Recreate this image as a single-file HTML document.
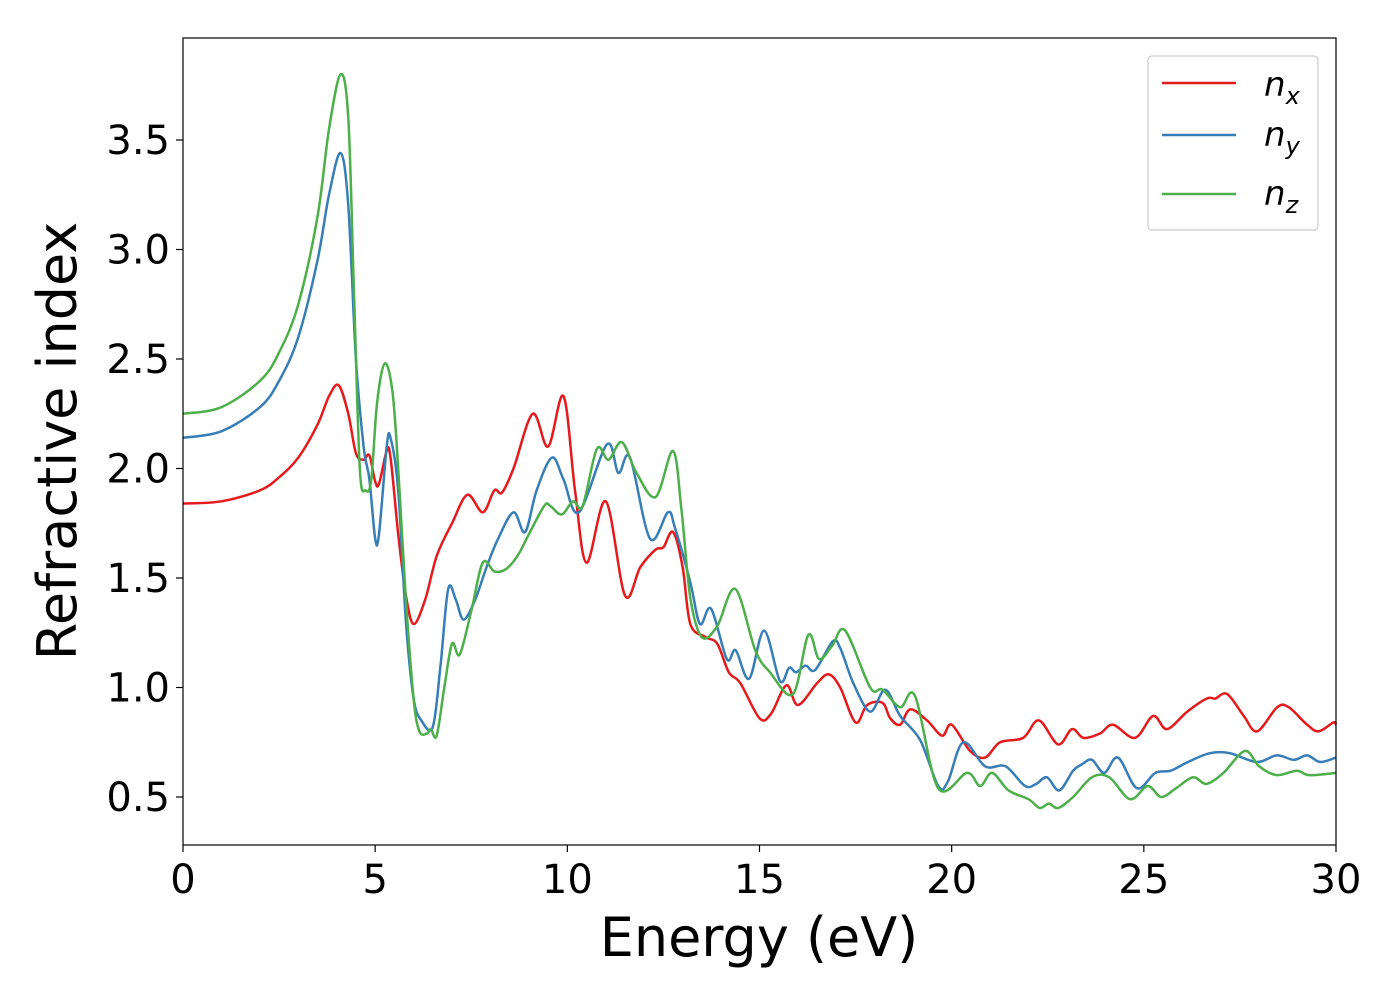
<!DOCTYPE html>
<html><head><meta charset="utf-8"><style>
html,body{margin:0;padding:0;background:#fff;}
svg{display:block;font-family:"DejaVu Sans","Liberation Sans",sans-serif;}
</style></head><body>
<svg id="chart" width="1400" height="1000" viewBox="0 0 1400 1000" xmlns="http://www.w3.org/2000/svg">
<rect width="1400" height="1000" fill="#fff"/>
<g id="series"></g>
<rect x="183" y="38" width="1153" height="807" fill="none" stroke="#000" stroke-width="1.2"/>
<g id="xticks"></g>
<g id="yticks"></g>
<text x="759" y="956" font-size="54" text-anchor="middle">Energy (eV)</text>
<text transform="translate(76,441) rotate(-90)" font-size="54" text-anchor="middle">Refractive index</text>
<g>
<rect x="1148" y="56" width="170" height="174" rx="4" fill="#fff" stroke="#ccc" stroke-width="1.2"/>
<line x1="1162" y1="83" x2="1236" y2="83" stroke="#e41a1c" stroke-width="2.5"/>
<text x="1264" y="96" font-size="34" font-style="italic">n<tspan font-size="24" dy="8">x</tspan></text>
<line x1="1162" y1="135" x2="1236" y2="135" stroke="#377eb8" stroke-width="2.5"/>
<text x="1264" y="146" font-size="34" font-style="italic">n<tspan font-size="24" dy="8">y</tspan></text>
<line x1="1162" y1="194" x2="1236" y2="194" stroke="#4daf4a" stroke-width="2.5"/>
<text x="1264" y="205" font-size="34" font-style="italic">n<tspan font-size="24" dy="8">z</tspan></text>
</g>
</svg>
<script>
const xTicks=[0,5,10,15,20,25,30];
const yTicks=[0.5,1.0,1.5,2.0,2.5,3.0,3.5];
const yTickLabels=["0.5","1.0","1.5","2.0","2.5","3.0","3.5"];
const nxE=[0,1,2,2.5,3,3.5,3.8,4.05,4.3,4.5,4.7,4.85,5.0,5.1,5.3,5.4,5.6,5.8,6.0,6.3,6.6,7.0,7.4,7.8,8.1,8.3,8.6,9.1,9.5,9.9,10.2,10.5,11.0,11.5,11.9,12.3,12.5,12.75,13.0,13.2,13.6,13.9,14.2,14.5,15.0,15.3,15.7,16.0,16.5,16.8,17.1,17.5,17.8,18.2,18.4,18.66,18.92,19.36,19.75,20.0,20.48,20.87,21.26,21.86,22.27,22.77,23.13,23.43,23.86,24.2,24.77,25.24,25.6,26.13,26.64,26.86,27.17,27.6,27.95,28.47,28.77,29.25,29.55,29.93,30];
const nxV=[1.84,1.85,1.90,1.96,2.05,2.20,2.33,2.38,2.25,2.07,2.04,2.06,1.94,1.93,2.08,2.05,1.70,1.42,1.29,1.40,1.60,1.75,1.88,1.80,1.90,1.89,2.00,2.25,2.10,2.33,1.90,1.57,1.85,1.42,1.55,1.63,1.64,1.71,1.55,1.29,1.23,1.20,1.07,1.02,0.86,0.88,1.01,0.92,1.02,1.06,1.00,0.84,0.92,0.93,0.86,0.83,0.90,0.85,0.78,0.83,0.71,0.68,0.75,0.77,0.85,0.74,0.81,0.77,0.79,0.83,0.77,0.87,0.81,0.89,0.95,0.95,0.97,0.87,0.80,0.91,0.91,0.83,0.80,0.84,0.83];
const nyE=[0,1,2,2.5,3,3.5,3.8,4.1,4.3,4.5,4.7,4.85,5.0,5.1,5.3,5.4,5.6,5.8,6.0,6.2,6.5,6.7,6.9,7.1,7.3,7.6,7.9,8.2,8.6,8.9,9.2,9.6,9.9,10.3,11.03,11.33,11.63,12.15,12.62,12.8,13.2,13.45,13.74,14.15,14.38,14.73,15.12,15.53,15.77,15.95,16.2,16.45,16.9,17.1,17.44,17.88,18.27,18.66,19.18,19.65,19.9,20.3,20.87,21.4,21.91,22.2,22.48,22.8,23.16,23.4,23.65,23.97,24.33,24.82,25.3,25.7,26.15,26.72,27.24,27.94,28.46,28.9,29.25,29.59,30];
const nyV=[2.14,2.17,2.28,2.40,2.60,2.95,3.25,3.44,3.20,2.50,2.10,1.95,1.68,1.70,2.10,2.14,1.90,1.30,0.95,0.85,0.82,1.10,1.45,1.40,1.31,1.40,1.55,1.68,1.80,1.71,1.90,2.05,1.95,1.80,2.11,1.98,2.05,1.68,1.80,1.73,1.48,1.29,1.36,1.13,1.17,1.04,1.26,1.03,1.09,1.07,1.10,1.08,1.21,1.18,1.02,0.89,0.99,0.87,0.76,0.55,0.57,0.75,0.64,0.64,0.55,0.56,0.59,0.53,0.62,0.65,0.67,0.61,0.68,0.54,0.61,0.62,0.66,0.70,0.70,0.66,0.69,0.67,0.69,0.66,0.68];
const nzE=[0,1,2,2.5,3,3.5,3.8,4.1,4.3,4.45,4.6,4.75,4.9,5.05,5.25,5.45,5.6,5.8,6.0,6.15,6.35,6.45,6.6,6.8,7.0,7.2,7.5,7.8,8.1,8.4,8.7,9.0,9.4,9.55,9.85,10.15,10.4,10.77,11.07,11.42,11.8,12.3,12.75,12.97,13.2,13.5,13.9,14.37,14.89,15.27,15.87,16.27,16.55,16.89,17.23,17.88,18.2,18.66,19.05,19.65,20.4,20.74,21.05,21.48,22.0,22.29,22.53,22.77,23.16,23.65,24.1,24.64,25.1,25.45,25.84,26.28,26.63,27.07,27.63,28.0,28.45,28.98,29.3,30];
const nzV=[2.25,2.28,2.40,2.53,2.75,3.15,3.55,3.80,3.60,2.80,2.00,1.90,1.95,2.30,2.48,2.35,2.00,1.40,0.95,0.80,0.79,0.81,0.78,1.00,1.20,1.15,1.35,1.57,1.53,1.54,1.60,1.70,1.83,1.83,1.79,1.85,1.83,2.09,2.04,2.12,1.98,1.87,2.08,1.81,1.41,1.23,1.28,1.45,1.17,1.07,0.97,1.24,1.13,1.19,1.26,1.00,0.99,0.91,0.96,0.54,0.61,0.55,0.61,0.53,0.49,0.45,0.47,0.45,0.50,0.59,0.59,0.49,0.55,0.50,0.54,0.59,0.56,0.61,0.71,0.64,0.60,0.62,0.60,0.61];

const NS='http://www.w3.org/2000/svg';
function xS(e){return 183+e*(1153/30);}
function yS(v){return 797-(v-0.5)*219;}
function smoothPath(E,V){
  const p=E.map((e,i)=>[xS(e),yS(V[i])]);
  let d='M'+p[0][0].toFixed(1)+','+p[0][1].toFixed(1);
  for(let i=0;i<p.length-1;i++){
    const p0=p[i-1]||p[i],p1=p[i],p2=p[i+1],p3=p[i+2]||p[i+1];
    const c1=[p1[0]+(p2[0]-p0[0])/6,p1[1]+(p2[1]-p0[1])/6];
    const c2=[p2[0]-(p3[0]-p1[0])/6,p2[1]-(p3[1]-p1[1])/6];
    d+=' C'+c1[0].toFixed(1)+','+c1[1].toFixed(1)+' '+c2[0].toFixed(1)+','+c2[1].toFixed(1)+' '+p2[0].toFixed(1)+','+p2[1].toFixed(1);
  }
  return d;
}
const sg=document.getElementById('series');
function addLine(E,V,color,name){
  const path=document.createElementNS(NS,'path');
  path.setAttribute('d',smoothPath(E,V));
  path.setAttribute('fill','none');
  path.setAttribute('stroke',color);
  path.setAttribute('stroke-width','2.5');
  
  
  sg.appendChild(path);
}
addLine(nxE,nxV,'#e41a1c','series-nx');
addLine(nyE,nyV,'#377eb8','series-ny');
addLine(nzE,nzV,'#4daf4a','series-nz');

const xg=document.getElementById('xticks');
xTicks.forEach(t=>{
  const l=document.createElementNS(NS,'line');
  l.setAttribute('x1',xS(t));l.setAttribute('x2',xS(t));
  l.setAttribute('y1',845);l.setAttribute('y2',852);
  l.setAttribute('stroke','#000');l.setAttribute('stroke-width','1.2');
  
  
  xg.appendChild(l);
  const tx=document.createElementNS(NS,'text');
  tx.setAttribute('x',xS(t));tx.setAttribute('y',893);
  tx.setAttribute('font-size','40');tx.setAttribute('text-anchor','middle');
  tx.textContent=String(t);
  
  
  xg.appendChild(tx);
});
const yg=document.getElementById('yticks');
yTicks.forEach((t,i)=>{
  const l=document.createElementNS(NS,'line');
  l.setAttribute('x1',176);l.setAttribute('x2',183);
  l.setAttribute('y1',yS(t));l.setAttribute('y2',yS(t));
  l.setAttribute('stroke','#000');l.setAttribute('stroke-width','1.2');
  
  
  yg.appendChild(l);
  const tx=document.createElementNS(NS,'text');
  tx.setAttribute('x',170);tx.setAttribute('y',yS(t)+14);
  tx.setAttribute('font-size','40');tx.setAttribute('text-anchor','end');
  tx.textContent=yTickLabels[i];
  
  
  yg.appendChild(tx);
});
</script>
</body></html>
